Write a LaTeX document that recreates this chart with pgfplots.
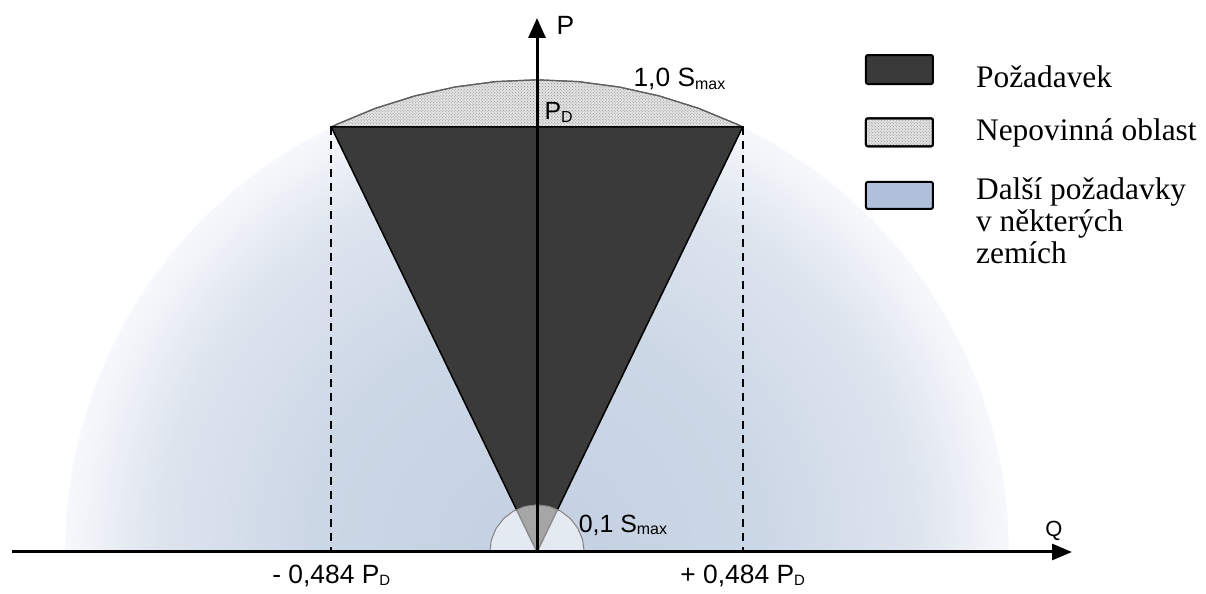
\documentclass[border=0pt]{standalone}
\usepackage{fontspec}
\setmainfont{Liberation Sans}
\newfontfamily\serif{Liberation Serif}
\usepackage{pgfplots}
\pgfplotsset{compat=1.18}
\usetikzlibrary{arrows.meta,patterns}

\definecolor{reqgray}{RGB}{58,58,58}
\definecolor{arcgray}{RGB}{95,95,95}
\definecolor{blueA}{RGB}{196,208,226}
\definecolor{blueB}{RGB}{204,215,230}
\definecolor{blueC}{RGB}{221,228,238}
\definecolor{blueD}{RGB}{244,246,250}
\definecolor{legblue}{RGB}{176,192,218}
% radius 25bp of the shading = edge of the path
\pgfdeclareradialshading{bluefade}{\pgfpoint{0bp}{0bp}}{color(0bp)=(blueA); color(12bp)=(blueB); color(20bp)=(blueC); color(24.5bp)=(blueD); color(27bp)=(white); color(50bp)=(white)}

\newcommand\sub[2][15]{\raisebox{-2.5bp}{\fontsize{#1}{#1}\selectfont #2}}

\begin{document}
\begin{tikzpicture}
\begin{axis}[
    x=425bp, y=425bp,
    xmin=-1.2635, xmax=1.5741,
    ymin=-0.0965, ymax=1.2988,
    hide axis,
    clip=false,
    legend style={at={(0.7172,0.9089)}, anchor=north west,
        draw=none, fill=none, inner sep=0pt, outer sep=0pt,
        row sep=30bp, column sep=0pt,
        font=\serif\fontsize{31.5}{32.5}\selectfont,
        cells={anchor=base west},
        nodes={inner sep=0pt, text depth=, align=left}},
]

% legend
\addlegendimage{legend image code/.code={
    \draw[black, line width=2bp, fill=reqgray, rounded corners=2bp] (0bp,3bp) rectangle (67bp,32bp);
    \path (110bp,0bp);}}
\addlegendentry{Požadavek}
\addlegendimage{legend image code/.code={
    \draw[black, line width=2bp, fill=gray!22, rounded corners=2bp,
          postaction={pattern=crosshatch dots, pattern color=gray!90}] (0bp,-6bp) rectangle (67bp,22bp);
    \path (110bp,0bp);}}
\addlegendentry{Nepovinná oblast}
\addlegendimage{legend image code/.code={
    \draw[black, line width=2bp, fill=legblue, rounded corners=2bp] (0bp,55bp) rectangle (67bp,82bp);
    \path (110bp,0bp);}}
\addlegendentry{Další požadavky\\v některých\\zemích}

% further requirements region (radius S_max), soft edge
\addplot[forget plot, draw=none, shade, shading=bluefade] coordinates {
    (1.1110,0) (1.1068,0.0968) (1.0941,0.1929) (1.0731,0.2875) (1.0440,0.3800)
    (1.0069,0.4695) (0.9622,0.5555) (0.9101,0.6372) (0.8511,0.7141) (0.7856,0.7856)
    (0.7141,0.8511) (0.6372,0.9101) (0.5555,0.9622) (0.4695,1.0069) (0.3800,1.0440)
    (0.2875,1.0731) (0.1929,1.0941) (0.0968,1.1068) (0,1.1110)
    (-0.0968,1.1068) (-0.1929,1.0941) (-0.2875,1.0731) (-0.3800,1.0440) (-0.4695,1.0069)
    (-0.5555,0.9622) (-0.6372,0.9101) (-0.7141,0.8511) (-0.7856,0.7856) (-0.8511,0.7141)
    (-0.9101,0.6372) (-0.9622,0.5555) (-1.0069,0.4695) (-1.0440,0.3800) (-1.0731,0.2875)
    (-1.0941,0.1929) (-1.1068,0.0968) (-1.1110,0) (0,-1.1110)
};
% white below the Q axis
\addplot[forget plot, draw=none, fill=white] coordinates {
    (-1.30,-0.12) (1.60,-0.12) (1.60,0) (-1.30,0)
};

% optional region (cap of the S_max circle above P_D)
\addplot[forget plot, draw=arcgray, line width=1.2bp, fill=gray!22,
         postaction={pattern=crosshatch dots, pattern color=gray!90}] coordinates {
    (0.484,1) (0.4695,1.0069) (0.3800,1.0440) (0.2875,1.0731) (0.1929,1.0941)
    (0.0968,1.1068) (0,1.1110) (-0.0968,1.1068) (-0.1929,1.0941) (-0.2875,1.0731)
    (-0.3800,1.0440) (-0.4695,1.0069) (-0.484,1)
};

% requirement triangle
\addplot[forget plot, draw=black, line width=1.5bp, fill=reqgray] coordinates {
    (0,0) (-0.484,1) (0.484,1) (0,0)
};

% dashed limits
\addplot[forget plot, black, line width=2bp, dash pattern=on 8bp off 6bp] coordinates {(-0.484,1) (-0.484,0)};
\addplot[forget plot, black, line width=2bp, dash pattern=on 8bp off 6bp] coordinates {(0.484,1) (0.484,0)};

% 0,1 S_max semicircle
\addplot[forget plot, draw={rgb,255:red,130;green,130;blue,130}, line width=1bp,
         fill=white, fill opacity=0.55] coordinates {
    (0.1111,0) (0.1073,0.0288) (0.0962,0.0556) (0.0786,0.0786) (0.0556,0.0962)
    (0.0288,0.1073) (0,0.1111) (-0.0288,0.1073) (-0.0556,0.0962) (-0.0786,0.0786)
    (-0.0962,0.0556) (-0.1073,0.0288) (-0.1111,0)
};

% axes
\addplot[forget plot, black, line width=3bp, -{Triangle[length=20bp,width=17bp]}] coordinates {(0,0) (0,1.2565)};
\addplot[forget plot, black, line width=3bp, -{Triangle[length=20bp,width=16bp]}] coordinates {(-1.235,0) (1.2588,0)};

% labels
\node[anchor=base west, font=\fontsize{26.5}{26.5}\selectfont] at (axis cs:0.0376,1.2165) {P};
\node[anchor=base west, font=\fontsize{22}{22}\selectfont] at (axis cs:1.188,0.0353) {Q};
\node[anchor=base west, font=\fontsize{26.5}{26.5}\selectfont] at (axis cs:0.2188,1.0941) {1,0 S\sub[16]{max}};
\node[anchor=base west, font=\fontsize{25}{25}\selectfont] at (axis cs:0.0094,1.0165) {P\sub[16]{D}};
\node[anchor=base west, font=\fontsize{25}{25}\selectfont] at (axis cs:0.090,0.047) {0,1 S\sub[16]{max}};
\node[anchor=base, font=\fontsize{26.5}{26.5}\selectfont] at (axis cs:-0.484,-0.073) {- 0,484 P\sub[15]{D}};
\node[anchor=base, font=\fontsize{26.5}{26.5}\selectfont] at (axis cs:0.484,-0.073) {+ 0,484 P\sub[15]{D}};
\end{axis}
\pgfresetboundingbox
\useasboundingbox (current axis.south west) rectangle (current axis.north east);
\end{tikzpicture}
\end{document}
